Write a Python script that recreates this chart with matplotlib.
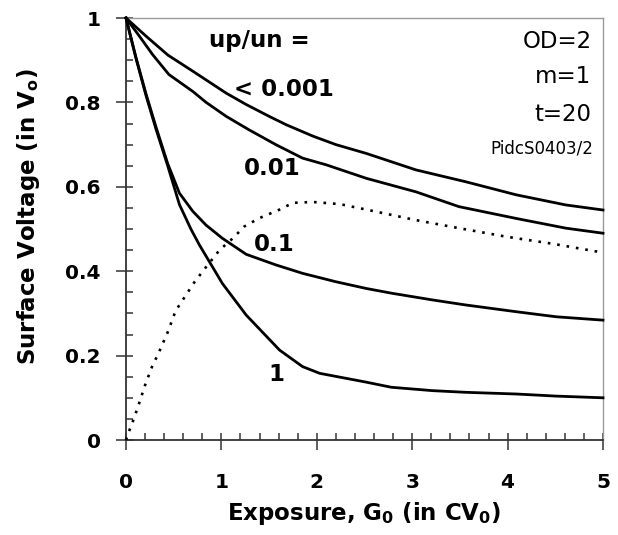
import matplotlib
matplotlib.use("Agg")
import matplotlib.pyplot as plt
from matplotlib.ticker import MultipleLocator

plt.rcParams['font.family'] = ['DejaVu Sans']
plt.rcParams['mathtext.fontset'] = 'dejavusans'

# ---- data ----
x_a = [0, 0.21, 0.44, 0.70, 1.05, 1.26, 1.50, 1.68, 1.96, 2.20, 2.52, 3.04, 3.56, 4.09, 4.61, 5.0]
y_a = [1.0, 0.957, 0.912, 0.874, 0.822, 0.795, 0.767, 0.747, 0.720, 0.700, 0.679, 0.640, 0.612, 0.581, 0.557, 0.545]

x_b = [0, 0.14, 0.28, 0.45, 0.70, 0.84, 1.05, 1.29, 1.57, 1.85, 2.10, 2.52, 3.04, 3.49, 4.09, 4.61, 5.0]
y_b = [1.0, 0.957, 0.913, 0.866, 0.826, 0.800, 0.767, 0.735, 0.700, 0.668, 0.652, 0.620, 0.588, 0.553, 0.525, 0.502, 0.490]

x_d = [0, 0.105, 0.21, 0.314, 0.437, 0.56, 0.70, 0.84, 1.01, 1.26, 1.57, 1.85, 2.20, 2.52, 2.78, 3.21, 3.56, 4.09, 4.51, 5.0]
y_d = [1.0, 0.906, 0.820, 0.742, 0.655, 0.585, 0.542, 0.509, 0.478, 0.440, 0.415, 0.395, 0.375, 0.359, 0.348, 0.332, 0.320, 0.304, 0.292, 0.284]

x_e = [0, 0.105, 0.21, 0.314, 0.437, 0.56, 0.68, 0.77, 1.01, 1.26, 1.61, 1.85, 2.03, 2.52, 2.78, 3.21, 3.56, 4.09, 4.51, 5.0]
y_e = [1.0, 0.904, 0.816, 0.737, 0.650, 0.558, 0.500, 0.462, 0.371, 0.296, 0.213, 0.174, 0.158, 0.137, 0.125, 0.117, 0.113, 0.109, 0.104, 0.100]

x_c = [0.0, 0.017, 0.07, 0.12, 0.20, 0.28, 0.33, 0.44, 0.52, 0.61, 0.72, 0.84, 0.98, 1.12, 1.24, 1.40, 1.61, 1.75, 1.96, 2.24, 2.52, 3.04, 3.49, 3.98, 4.50, 5.0]
y_c = [0.0, 0.012, 0.043, 0.075, 0.130, 0.178, 0.200, 0.257, 0.306, 0.337, 0.375, 0.410, 0.450, 0.478, 0.506, 0.526, 0.546, 0.562, 0.564, 0.559, 0.546, 0.521, 0.502, 0.482, 0.464, 0.444]

xticks = [0, 1, 2, 3, 4, 5]
xtick_labels = ['0', '1', '2', '3', '4', '5']
yticks = [0, 0.2, 0.4, 0.6, 0.8, 1.0]
ytick_labels = ['0', '0.2', '0.4', '0.6', '0.8', '1']

curve_labels = ['up/un =', '< 0.001', '0.01', '0.1', '1']
info_labels = ['OD=2', 'm=1', 't=20']
code_label = 'PidcS0403/2'

# ---- figure ----
fig = plt.figure(figsize=(6.18, 5.35), dpi=100)
ax = fig.add_axes([126/618, 95/535, 477/618, 422/535])

lw = 2.0
for xs, ys in [(x_a, y_a), (x_b, y_b), (x_d, y_d), (x_e, y_e)]:
    ax.plot(xs, ys, color='black', lw=lw, solid_joinstyle='round', clip_on=False, zorder=3)
ax.plot(x_c, y_c, color='black', lw=1.9, linestyle=(0, (1.0, 2.6)), clip_on=False, zorder=3)

ax.set_xlim(0, 5)
ax.set_ylim(0, 1)

ax.set_xticks(xticks, labels=xtick_labels)
ax.set_yticks(yticks, labels=ytick_labels)
ax.xaxis.set_minor_locator(MultipleLocator(0.2))
ax.yaxis.set_minor_locator(MultipleLocator(0.05))
ax.xaxis.remove_overlapping_locs = False
ax.yaxis.remove_overlapping_locs = False

tick_col = '#333333'
ax.tick_params(which='major', direction='out', length=7, width=1.1, color=tick_col,
               top=False, right=False, labelsize=14.5)
ax.tick_params(axis='x', which='major', pad=17)
ax.tick_params(axis='y', which='major', pad=11)
ax.tick_params(which='minor', direction='in', length=5, width=1.1, color=tick_col,
               top=False, right=False)
for lab in ax.get_xticklabels() + ax.get_yticklabels():
    lab.set_fontweight('bold')

for side in ['left', 'bottom']:
    ax.spines[side].set_color(tick_col)
    ax.spines[side].set_linewidth(1.3)
for side in ['top', 'right']:
    ax.spines[side].set_color('#9a9a9a')
    ax.spines[side].set_linewidth(1.0)

ax.set_xlabel(r'Exposure, G$_{\mathbf{0}}$ (in CV$_{\mathbf{0}}$)', fontsize=16.5, fontweight='bold')
ax.xaxis.set_label_coords(0.5, -0.143)
ax.set_ylabel(r'Surface Voltage (in V$_{\mathbf{o}}$)', fontsize=16.5, fontweight='bold')
ax.yaxis.set_label_coords(-0.176, 0.528)

fs = 16.5
ax.text(1.398, 0.931, curve_labels[0], fontsize=fs, fontweight='bold', ha='center', va='baseline')
ax.text(1.651, 0.814, curve_labels[1], fontsize=fs, fontweight='bold', ha='center', va='baseline')
ax.text(1.537, 0.629, curve_labels[2], fontsize=fs, fontweight='bold', ha='center', va='baseline')
ax.text(1.555, 0.448, curve_labels[3], fontsize=fs, fontweight='bold', ha='center', va='baseline')
ax.text(1.572, 0.140, curve_labels[4], fontsize=fs, fontweight='bold', ha='center', va='baseline')

ax.text(4.88, 0.928, info_labels[0], fontsize=16.5, ha='right', va='baseline')
ax.text(4.88, 0.845, info_labels[1], fontsize=16.5, ha='right', va='baseline')
ax.text(4.88, 0.757, info_labels[2], fontsize=16.5, ha='right', va='baseline')
ax.text(4.90, 0.678, code_label, fontsize=12, ha='right', va='baseline')

fig.savefig('out.png', dpi=100)
